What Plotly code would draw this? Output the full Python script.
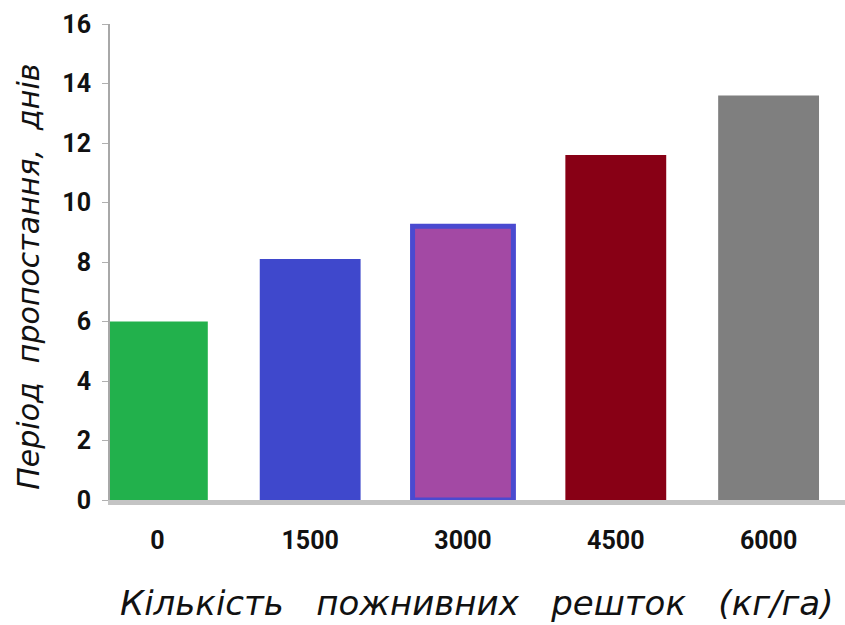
import plotly.graph_objects as go

categories = ["0", "1500", "3000", "4500", "6000"]
values = [6.0, 8.1, 9.2, 11.6, 13.6]
bar_colors = ["#22b14c", "#3f48cc", "#a349a4", "#880015", "#7f7f7f"]
border_colors = ["#22b14c", "#3f48cc", "#4a4ad0", "#880015", "#7f7f7f"]
border_widths = [0, 0, 5, 0, 0]
y_ticks = [0, 2, 4, 6, 8, 10, 12, 14, 16]

x_title = "Кількість   пожнивних   решток   (кг/га)"
y_title = "Період  пропостання,  днів"

fig = go.Figure(go.Bar(
    x=categories, y=values, width=0.66,
    marker=dict(color=bar_colors, line=dict(color=border_colors, width=border_widths)),
))

tick_font = dict(family="Roboto, sans-serif", size=25, color="#111111", weight="bold")
x_title_font = dict(family="DejaVu Sans, sans-serif", size=34, color="#111111", style="italic")
y_title_font = dict(family="DejaVu Sans, sans-serif", size=30, color="#111111", style="italic")

fig.update_layout(
    width=845, height=625,
    margin=dict(l=110, r=0, t=24, b=125),
    paper_bgcolor="white", plot_bgcolor="white",
    showlegend=False,
    xaxis=dict(range=[-0.31, 4.5], showgrid=False, zeroline=False,
               showline=True, linecolor="#c4c4c4", linewidth=5,
               ticks="", tickfont=tick_font, ticklabelstandoff=14),
    yaxis=dict(range=[0, 16], tickvals=y_ticks, showgrid=False, zeroline=False,
               showline=True, linecolor="#a8a8a8", linewidth=2,
               ticks="outside", ticklen=6, tickcolor="#b0b0b0", tickwidth=1,
               tickfont=tick_font, ticklabelstandoff=6),
    annotations=[
        dict(text=x_title, xref="paper", yref="paper", x=0.498, y=-0.216,
             xanchor="center", yanchor="middle", showarrow=False, font=x_title_font),
        dict(text=y_title, xref="paper", yref="paper", x=-0.111, y=0.47,
             xanchor="center", yanchor="middle", textangle=-90, showarrow=False,
             font=y_title_font),
    ],
)

fig.write_html("out.html")
